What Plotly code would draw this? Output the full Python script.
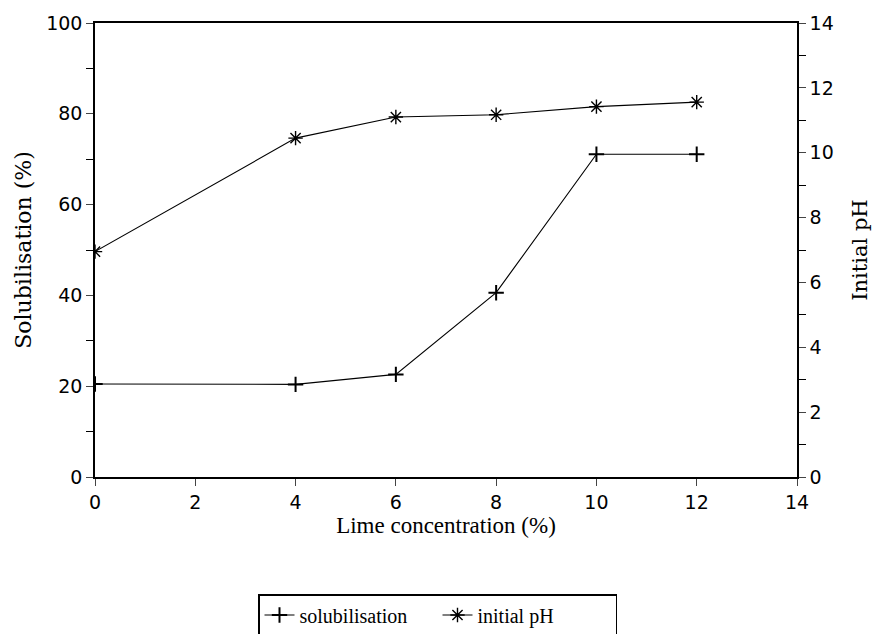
import plotly.graph_objects as go

lime = [0, 4, 6, 8, 10, 12]
solubilisation = [20.5, 20.4, 22.6, 40.6, 71.1, 71.1]
initial_ph = [6.95, 10.45, 11.1, 11.17, 11.42, 11.56]

SANS = "DejaVu Sans, Arial, sans-serif"
SLAB = "DejaVu Serif, serif"
SERIF = "Liberation Serif, Times New Roman, serif"

fig = go.Figure()
fig.add_trace(go.Scatter(
    x=lime, y=solubilisation, name="solubilisation", mode="lines+markers",
    line=dict(color="black", width=1.1),
    marker=dict(symbol="cross-thin-open", size=11, color="black", line=dict(color="black", width=2)),
))
fig.add_trace(go.Scatter(
    x=lime, y=initial_ph, name="initial pH", mode="lines+markers", yaxis="y2",
    line=dict(color="black", width=1.1),
    marker=dict(symbol="asterisk-open", size=12, color="black", line=dict(color="black", width=1.4)),
))

fig.update_layout(
    width=874, height=634,
    margin=dict(l=95, r=77, t=23, b=157, autoexpand=False),
    paper_bgcolor="white", plot_bgcolor="white",
    font=dict(family=SANS, size=17, color="black"),
    xaxis=dict(
        range=[0, 14], dtick=2, tick0=0, ticks="outside", ticklen=7, tickwidth=1.2,
        showline=True, linecolor="black", linewidth=1.5, mirror=True,
        showgrid=False, zeroline=False,
        tickfont=dict(family=SANS, size=19),
        title=dict(text="Lime concentration (%)", font=dict(family=SERIF, size=23), standoff=5),
    ),
    yaxis=dict(
        range=[0, 100], dtick=20, tick0=0, ticks="outside", ticklen=7, tickwidth=1.2,
        minor=dict(dtick=10, ticks="outside", ticklen=7, tickcolor="black"),
        showline=True, linecolor="black", linewidth=1.5,
        showgrid=False, zeroline=False,
        tickfont=dict(family=SANS, size=19),
        title=dict(text="Solubilisation (%)", font=dict(family=SLAB, size=22), standoff=8),
    ),
    yaxis2=dict(
        range=[0, 14], dtick=2, tick0=0, ticks="outside", ticklen=7, tickwidth=1.2,
        minor=dict(dtick=1, ticks="outside", ticklen=7, tickcolor="black"),
        overlaying="y", side="right",
        showline=True, linecolor="black", linewidth=1.5,
        showgrid=False, zeroline=False,
        tickfont=dict(family=SANS, size=19),
        title=dict(text="Initial pH", font=dict(family=SLAB, size=21), standoff=20),
    ),
    legend=dict(
        orientation="h", x=258 / 874, xanchor="left", xref="container",
        y=1 - 594 / 634, yanchor="top", yref="container",
        bordercolor="black", borderwidth=1.5, bgcolor="white",
        font=dict(family=SERIF, size=20), entrywidth=133,
    ),
)

fig.write_html("out.html")
